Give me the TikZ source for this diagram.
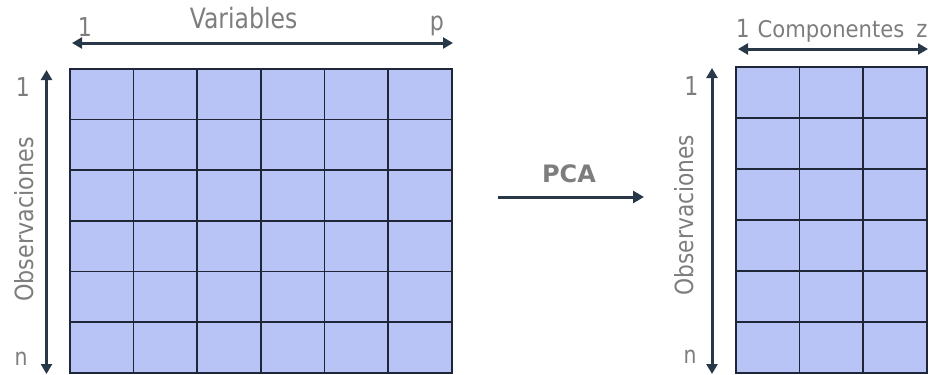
\documentclass[tikz,border=0pt]{standalone}
\usepackage{fontspec}
\setmainfont{DejaVu Sans}
\usetikzlibrary{arrows.meta,calc}
\definecolor{cellfill}{RGB}{184,196,245}
\definecolor{gridline}{RGB}{30,38,56}
\definecolor{arrowcol}{RGB}{40,56,72}
\definecolor{labelgray}{RGB}{125,125,125}
\newcommand{\cnd}[2]{\scalebox{#1}[1]{#2}}
\newcommand{\fs}[1]{\fontsize{#1}{#1}\selectfont}
\tikzset{
  cellgrid/.style={draw=gridline, line width=1.8pt},
  axisarrow/.style={draw=arrowcol, line width=3pt, {Triangle[length=10pt,width=11pt]}-{Triangle[length=10pt,width=11pt]}},
  maparrow/.style={draw=arrowcol, line width=3pt, -{Triangle[length=11pt,width=12pt]}},
  lbl/.style={text=labelgray, inner sep=0pt, anchor=base},
  pcalbl/.style={text=labelgray, inner sep=0pt, anchor=base, font=\fs{24}\bfseries},
}
\begin{document}
\begin{tikzpicture}[x=1pt,y=-1pt]
\useasboundingbox (0,0) rectangle (930,375);
% left grid 6x6
\node[inner sep=0pt, minimum width=382pt, minimum height=304pt, fill=cellfill] (gridL) at (261,221) {};
\foreach \i in {1,...,5} {
  \draw[cellgrid] ($(gridL.north west)+(\i*63.667,0)$) -- ($(gridL.south west)+(\i*63.667,0)$);
  \draw[cellgrid] ($(gridL.north west)+(0,\i*50.667)$) -- ($(gridL.north east)+(0,\i*50.667)$);
}
\draw[cellgrid] (gridL.north west) rectangle (gridL.south east);
% right grid 3x6
\node[inner sep=0pt, minimum width=191pt, minimum height=306pt, fill=cellfill] (gridR) at (831.5,220) {};
\foreach \i in {1,2} {
  \draw[cellgrid] ($(gridR.north west)+(\i*63.667,0)$) -- ($(gridR.south west)+(\i*63.667,0)$);
}
\foreach \i in {1,...,5} {
  \draw[cellgrid] ($(gridR.north west)+(0,\i*51)$) -- ($(gridR.north east)+(0,\i*51)$);
}
\draw[cellgrid] (gridR.north west) rectangle (gridR.south east);
% left axes
\coordinate (vL1) at (72,43);
\coordinate (vL2) at (453,43);
\draw[axisarrow] (vL1) -- (vL2);
\coordinate (oL1) at (46.5,70);
\coordinate (oL2) at (46.5,374);
\draw[axisarrow] (oL1) -- (oL2);
\node[lbl] (varlbl) at (243.5,28) {\fs{28}\cnd{0.84}{Variables}};
\node[lbl] (v1) at (85,36) {\fs{26}\cnd{0.85}{1}};
\node[lbl] (vp) at (437,30) {\fs{26}\cnd{0.85}{p}};
\node[lbl] (o1) at (23,96) {\fs{26}\cnd{0.85}{1}};
\node[lbl] (on) at (21,365) {\fs{24}\cnd{0.85}{n}};
\node[lbl, rotate=90] (obsL) at (33,219.5) {\fs{25}\cnd{0.89}{Observaciones}};
% PCA arrow
\coordinate (pca1) at (498,197);
\coordinate (pca2) at (644,197);
\draw[maparrow] (pca1) -- (pca2);
\node[pcalbl] (pcalbl) at (569,182) {PCA};
% right axes
\coordinate (cR1) at (738,49);
\coordinate (cR2) at (928,49);
\draw[axisarrow] (cR1) -- (cR2);
\coordinate (oR1) at (712,68);
\coordinate (oR2) at (712,374);
\draw[axisarrow] (oR1) -- (oR2);
\node[lbl] (comlbl) at (831,37) {\fs{23}\cnd{0.92}{Componentes}};
\node[lbl] (c1) at (743,37) {\fs{25}\cnd{0.85}{1}};
\node[lbl] (cz) at (922,37) {\fs{24}\cnd{0.88}{z}};
\node[lbl] (r1) at (691.5,95) {\fs{26}\cnd{0.85}{1}};
\node[lbl] (rn) at (690,363) {\fs{24}\cnd{0.85}{n}};
\node[lbl, rotate=90] (obsR) at (693,215) {\fs{25}\cnd{0.87}{Observaciones}};
\end{tikzpicture}
\end{document}
